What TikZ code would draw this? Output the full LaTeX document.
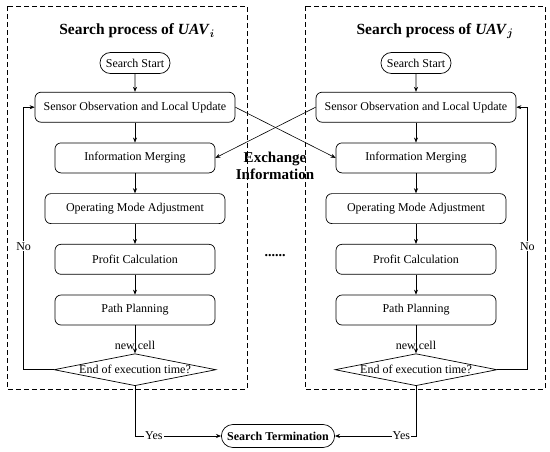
\documentclass[tikz,border=0pt]{standalone}
\usepackage{amsmath, bm}
\usepackage{fontspec}
\setmainfont{Liberation Serif}
\usepackage{tikz}
\usetikzlibrary{
arrows.meta,
positioning,
calc,
shapes.geometric,
shapes.misc
}
\newcommand{\boxfont}{\fontsize{12}{14}\selectfont}

\begin{document}
\begin{tikzpicture}[x=1pt, y=-1pt, >={Stealth[length=5pt, width=4pt]},
  stepbox/.style={draw, line width=0.7pt, rounded corners=6pt, minimum height=30pt, inner sep=2pt, font=\boxfont},
  termbox/.style={draw, line width=0.7pt, rounded rectangle, minimum height=21pt, inner xsep=5pt, font=\boxfont},
  decision/.style={draw, line width=0.7pt, diamond, aspect=5, inner sep=0pt, minimum width=162pt, minimum height=32pt, font=\boxfont},
  flow/.style={->, line width=0.6pt},
  procframe/.style={dashed, line width=0.8pt, dash pattern=on 5pt off 3pt}]

\useasboundingbox (0,0) rectangle (550,451);

% Process frames
\draw[procframe] (7,6) rectangle (247,389);
\draw[procframe] (305,6) rectangle (545,389);
\node[font=\fontsize{15.5}{17}\selectfont\bfseries] (titleL) at (137,31) {Search process of \textit{UAV}$_{\bm{i}}$};
\node[font=\fontsize{15.5}{17}\selectfont\bfseries] (titleR) at (435,31) {Search process of \textit{UAV}$_{\bm{j}}$};

% Flow of each UAV
\foreach \s/\x in {L/135, R/416} {
  \node[termbox] (start\s) at (\x,63) {Search Start};
  \node[stepbox, minimum width=200pt, below=18pt of start\s] (sens\s) {Sensor Observation and Local Update};
  \node[stepbox, minimum width=160pt, below=20pt of sens\s] (merge\s) {Information Merging};
  \node[stepbox, minimum width=180pt, below=20pt of merge\s] (mode\s) {Operating Mode Adjustment};
  \node[stepbox, minimum width=160pt, below=20pt of mode\s] (profit\s) {Profit Calculation};
  \node[stepbox, minimum width=160pt, below=20pt of profit\s] (plan\s) {Path Planning};
  \node[decision, below=28pt of plan\s] (end\s) {End of execution time?};
  \node[font=\boxfont] (cell\s) at ($(plan\s.south)!0.7!(end\s.north)$) {new cell};
  \draw[flow] (start\s) -- (sens\s);
  \draw[flow] (sens\s) -- (merge\s);
  \draw[flow] (merge\s) -- (mode\s);
  \draw[flow] (mode\s) -- (profit\s);
  \draw[flow] (profit\s) -- (plan\s);
  \draw[flow] (plan\s) -- (end\s);
}

% No loops
\draw[flow] (endL.west) -- ++(-30,0) |- (sensL.west)
  node[pos=0.235, fill=white, inner sep=1pt, font=\boxfont] {No};
\draw[flow] (endR.east) -- ++(30,0) |- (sensR.east)
  node[pos=0.235, fill=white, inner sep=1pt, font=\boxfont] {No};

% Exchange between UAVs
\draw[flow] (sensL.east) -- (mergeR.west);
\draw[flow] (sensR.west) -- (mergeL.east);
\node[font=\fontsize{15}{17}\selectfont\bfseries, align=center] (exch) at (275,166) {Exchange\\Information};
\node[font=\fontsize{14}{14}\selectfont\bfseries] (dots) at (275,256) {......};

% Termination
\node[termbox, font=\boxfont\bfseries, minimum height=23pt] (term) at (278,436) {Search Termination};
\draw[flow] (endL.south) |- (term.west)
  node[pos=0.61, fill=white, inner sep=1pt, font=\boxfont] {Yes};
\draw[flow] (endR.south) |- (term.east)
  node[pos=0.59, fill=white, inner sep=1pt, font=\boxfont] {Yes};

\end{tikzpicture}
\end{document}
